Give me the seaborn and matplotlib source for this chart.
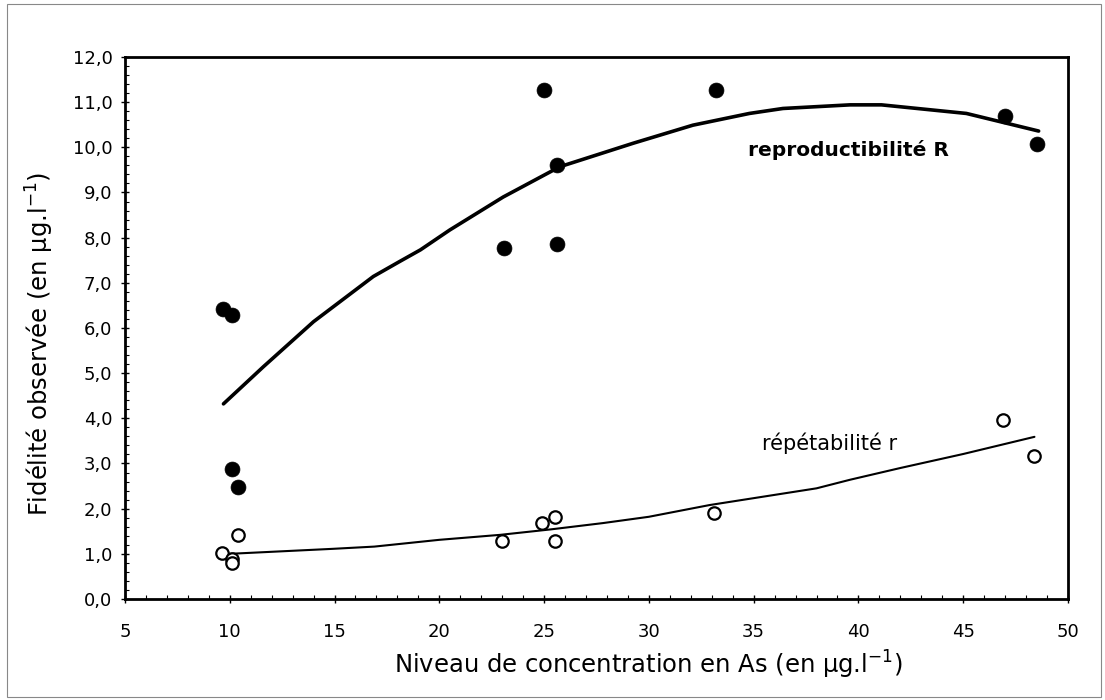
import matplotlib
matplotlib.use("Agg")
import matplotlib.pyplot as plt
from matplotlib.patches import Rectangle
from matplotlib.ticker import MultipleLocator, FuncFormatter
import seaborn as sns
import pandas as pd

# Reproductibilité R : points observés
conc_R = [9.7, 10.1, 10.1, 10.4, 23.1, 25.0, 25.6, 25.6, 33.2, 47.0, 48.5]
val_R = [6.41, 6.28, 2.88, 2.47, 7.78, 11.28, 9.60, 7.87, 11.28, 10.69, 10.07]

# Répétabilité r : points observés
conc_r = [9.65, 10.1, 10.1, 10.4, 23.0, 24.9, 25.5, 25.5, 33.1, 46.9, 48.4]
val_r = [1.02, 0.89, 0.79, 1.42, 1.28, 1.69, 1.82, 1.28, 1.90, 3.96, 3.16]

# Courbes lissées
curve_R_x = [9.7, 11.6, 14.0, 16.85, 18.1, 19.1, 20.5, 23.05, 25.75, 29.25, 32.1,
             34.8, 36.4, 39.6, 41.1, 45.15, 48.6]
curve_R_y = [4.32, 5.14, 6.14, 7.14, 7.47, 7.73, 8.17, 8.90, 9.57, 10.09, 10.49,
             10.75, 10.86, 10.94, 10.94, 10.75, 10.36]
curve_r_x = [10.0, 14.9, 16.9, 20.0, 22.9, 25.3, 27.8, 30.0, 32.9, 38.0, 39.6, 42.0, 45.0, 48.4]
curve_r_y = [1.0, 1.11, 1.16, 1.31, 1.42, 1.54, 1.68, 1.82, 2.08, 2.45, 2.64, 2.90, 3.21, 3.59]

sns.set_style("ticks")
plt.rcParams["font.family"] = ["DejaVu Sans"]
plt.rcParams["mathtext.fontset"] = "dejavusans"
plt.rcParams["text.color"] = "black"
plt.rcParams["axes.labelcolor"] = "black"
plt.rcParams["xtick.color"] = "black"
plt.rcParams["ytick.color"] = "black"

fig = plt.figure(figsize=(11.05, 7.0), dpi=100)
ax = fig.add_axes([0.1131, 0.1443, 0.8534, 0.7743])

df_R = pd.DataFrame({"x": conc_R, "y": val_R})
df_r = pd.DataFrame({"x": conc_r, "y": val_r})
df_cR = pd.DataFrame({"x": curve_R_x, "y": curve_R_y})
df_cr = pd.DataFrame({"x": curve_r_x, "y": curve_r_y})

sns.lineplot(data=df_cR, x="x", y="y", ax=ax, color="black", linewidth=2.6,
             sort=False, estimator=None, zorder=2)
sns.lineplot(data=df_cr, x="x", y="y", ax=ax, color="black", linewidth=1.5,
             sort=False, estimator=None, zorder=2)
sns.scatterplot(data=df_R, x="x", y="y", ax=ax, color="black", s=115,
                edgecolor="black", linewidth=0.5, zorder=3)
sns.scatterplot(data=df_r, x="x", y="y", ax=ax, facecolor="white", s=80,
                edgecolor="black", linewidth=1.6, zorder=3)

ax.set_xlim(5, 50)
ax.set_ylim(0, 12)

ax.xaxis.set_major_locator(MultipleLocator(5))
ax.xaxis.set_minor_locator(MultipleLocator(1))
ax.yaxis.set_major_locator(MultipleLocator(1))
ax.yaxis.set_minor_locator(MultipleLocator(0.2))
ax.yaxis.set_major_formatter(FuncFormatter(lambda v, p: f"{v:.1f}".replace(".", ",")))

ax.tick_params(axis="both", which="major", direction="inout", length=6, width=1.0,
               labelsize=13, colors="black")
ax.tick_params(axis="x", which="major", pad=14)
ax.tick_params(axis="y", which="major", pad=6)
ax.tick_params(axis="both", which="minor", direction="in", length=3, width=0.8)

for side in ["left", "right", "top", "bottom"]:
    ax.spines[side].set_visible(True)
    ax.spines[side].set_linewidth(2.0)
    ax.spines[side].set_color("black")

ax.set_xlabel("Niveau de concentration en As (en µg.l$^{-1}$)", fontsize=17.5, color="black")
ax.set_ylabel("Fidélité observée (en µg.l$^{-1}$)", fontsize=17.5, color="black")
ax.xaxis.label.set_va("center")
ax.xaxis.set_label_coords(0.555, -0.122)
ax.yaxis.label.set_va("center")
ax.yaxis.set_label_coords(-0.09, 0.47)

ax.text(34.72, 9.94, "reproductibilité R", fontsize=14.5, fontweight="bold",
        ha="left", va="center", color="black")
ax.text(35.39, 3.45, "répétabilité r", fontsize=15, ha="left", va="center", color="black")

fig.patches.append(Rectangle((0.006, 0.004), 0.99, 0.99, transform=fig.transFigure,
                             fill=False, edgecolor="#888888", linewidth=0.8))

fig.savefig("out.png", dpi=100)
